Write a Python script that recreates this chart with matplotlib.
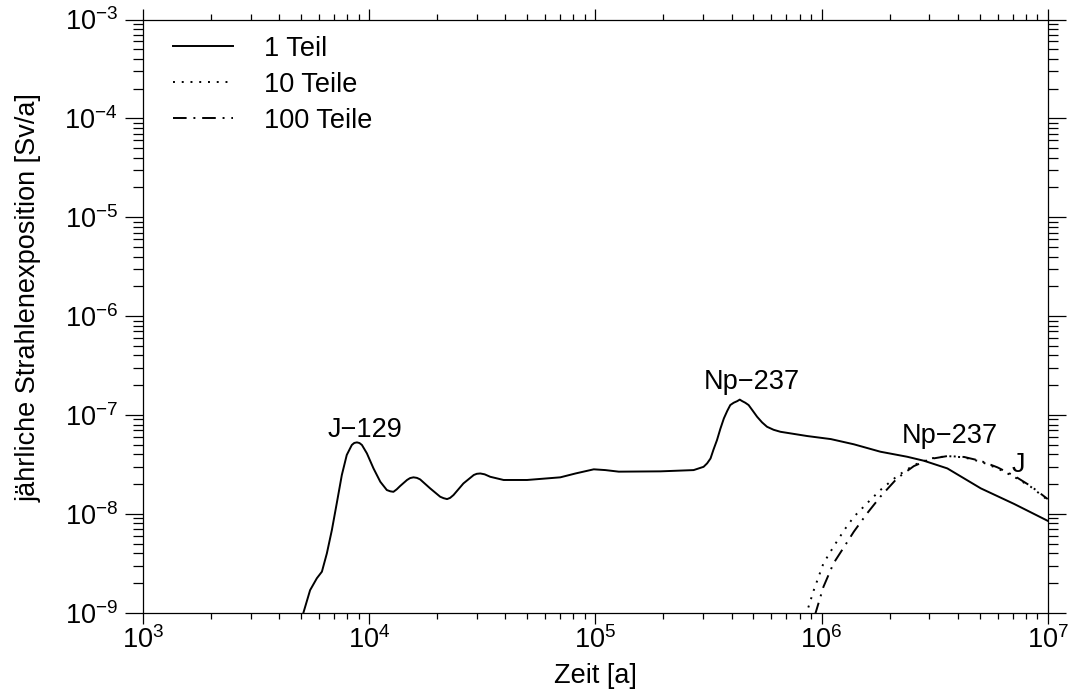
import numpy as np
import matplotlib
matplotlib.use('Agg')
import matplotlib.pyplot as plt
from matplotlib.ticker import LogLocator, LogFormatterMathtext, NullFormatter

plt.rcParams['font.family'] = ['Liberation Sans', 'DejaVu Sans']
plt.rcParams['mathtext.fontset'] = 'custom'
plt.rcParams['mathtext.rm'] = 'Liberation Sans'

# 1 Teil (whole repository)
t_1 = [5.01e3, 5.12e3, 5.48e3, 5.87e3, 6.18e3, 6.50e3, 6.84e3, 7.19e3, 7.57e3, 7.96e3,
       8.38e3, 8.59e3, 8.83e3, 9.06e3, 9.29e3, 9.77e3, 1.045e4, 1.12e4, 1.197e4, 1.24e4,
       1.28e4, 1.324e4, 1.37e4, 1.47e4, 1.517e4, 1.57e4, 1.626e4, 1.68e4, 1.86e4, 2.06e4,
       2.133e4, 2.21e4, 2.28e4, 2.36e4, 2.61e4, 2.90e4, 2.99e4, 3.10e4, 3.24e4, 3.43e4,
       3.93e4, 4.99e4, 7.0e4, 8.17e4, 9.84e4, 1.107e5, 1.27e5, 1.94e5, 2.72e5, 3.01e5,
       3.12e5, 3.23e5, 3.33e5, 3.45e5, 3.57e5, 3.70e5, 3.83e5, 3.95e5, 4.09e5, 4.24e5,
       4.35e5, 4.46e5, 4.60e5, 4.76e5, 4.97e5, 5.19e5, 5.46e5, 5.74e5, 6.14e5, 6.58e5,
       8.65e5, 1.10e6, 1.39e6, 1.82e6, 2.39e6, 2.84e6, 3.60e6, 5.06e6, 7.10e6, 1.0e7]
d_1 = [7.9e-10, 1.0e-9, 1.69e-9, 2.23e-9, 2.60e-9, 3.98e-9, 6.85e-9, 1.28e-8, 2.47e-8, 3.94e-8,
       4.97e-8, 5.21e-8, 5.28e-8, 5.20e-8, 4.97e-8, 4.09e-8, 2.88e-8, 2.11e-8, 1.74e-8, 1.69e-8,
       1.67e-8, 1.77e-8, 1.91e-8, 2.20e-8, 2.30e-8, 2.34e-8, 2.31e-8, 2.23e-8, 1.81e-8, 1.49e-8,
       1.44e-8, 1.41e-8, 1.45e-8, 1.55e-8, 2.03e-8, 2.47e-8, 2.54e-8, 2.56e-8, 2.51e-8, 2.37e-8,
       2.20e-8, 2.20e-8, 2.34e-8, 2.56e-8, 2.82e-8, 2.77e-8, 2.67e-8, 2.69e-8, 2.77e-8, 2.99e-8,
       3.24e-8, 3.63e-8, 4.47e-8, 5.57e-8, 7.24e-8, 9.23e-8, 1.10e-7, 1.26e-7, 1.33e-7, 1.38e-7,
       1.43e-7, 1.38e-7, 1.33e-7, 1.26e-7, 1.10e-7, 9.59e-8, 8.41e-8, 7.60e-8, 7.08e-8, 6.76e-8,
       6.12e-8, 5.70e-8, 5.05e-8, 4.25e-8, 3.78e-8, 3.44e-8, 2.88e-8, 1.81e-8, 1.26e-8, 8.5e-9]

# 10 Teile
t_10 = [8.51e5, 9.25e5, 1.02e6, 1.13e6, 1.26e6, 1.39e6, 1.59e6, 1.82e6, 2.16e6,
        2.56e6, 3.03e6, 3.60e6, 4.27e6, 5.06e6, 6.0e6, 7.10e6, 8.41e6, 1.0e7]
d_10 = [9.3e-10, 1.70e-9, 3.16e-9, 4.65e-9, 6.85e-9, 9.33e-9, 1.28e-8, 1.74e-8, 2.41e-8,
        3.11e-8, 3.63e-8, 3.84e-8, 3.72e-8, 3.37e-8, 2.88e-8, 2.37e-8, 1.88e-8, 1.38e-8]

# 100 Teile
t_100 = [9.33e5, 1.02e6, 1.13e6, 1.26e6, 1.39e6, 1.59e6, 1.82e6, 2.16e6, 2.56e6,
         3.03e6, 3.60e6, 4.27e6, 5.06e6, 6.0e6, 7.10e6, 8.41e6, 1.0e7]
d_100 = [9.3e-10, 1.83e-9, 3.16e-9, 4.65e-9, 6.61e-9, 1.01e-8, 1.49e-8, 2.29e-8, 3.04e-8,
         3.59e-8, 3.84e-8, 3.76e-8, 3.43e-8, 2.95e-8, 2.43e-8, 1.91e-8, 1.41e-8]

# nuclide labels: text, time, dose (baseline)
labels = ['J\u2212129', 'Np\u2212237', 'Np\u2212237', 'J']
label_t = [9.6e3, 4.9e5, 3.68e6, 7.45e6]
label_d = [5.98e-8, 1.83e-7, 5.16e-8, 2.67e-8]

x_ticks = [1e3, 1e4, 1e5, 1e6, 1e7]
y_ticks = [1e-9, 1e-8, 1e-7, 1e-6, 1e-5, 1e-4, 1e-3]

fs = 19.5
lw = 1.4

fig = plt.figure(figsize=(10.75, 6.97), dpi=100)
ax = fig.add_axes([143 / 1075, 1 - 612.7 / 697, 904.7 / 1075, 593.2 / 697])

ax.plot(t_1, d_1, color='black', lw=lw, label='1 Teil')
ax.plot(t_10, d_10, color='black', lw=lw, dashes=(1, 3.5), label='10 Teile')
ax.plot(t_100, d_100, color='black', lw=lw, dashes=(7, 3.5, 1, 3.5), label='100 Teile')

for txt, x, y in zip(labels, label_t, label_d):
    ax.text(x, y, txt, fontsize=fs, ha='center', va='baseline')

ax.set_xscale('log')
ax.set_yscale('log')
ax.set_xticks(x_ticks)
ax.set_yticks(y_ticks)
ax.set_xlim(1e3, 1e7)
ax.set_ylim(1e-9, 1e-3)

for axis in (ax.xaxis, ax.yaxis):
    axis.set_minor_locator(LogLocator(base=10, subs=np.arange(2, 10), numticks=20))
    axis.set_major_formatter(LogFormatterMathtext())
    axis.set_minor_formatter(NullFormatter())

ax.tick_params(which='both', direction='out', top=True, right=True, width=0.9, colors='black')
ax.tick_params(axis='x', which='major', length=8, pad=2, labelsize=fs)
ax.tick_params(axis='x', which='minor', length=4)
ax.tick_params(axis='y', which='major', length=13, pad=5, labelsize=fs)
ax.tick_params(axis='y', which='minor', length=7)
for sp in ax.spines.values():
    sp.set_linewidth(0.9)

ax.set_xlabel('Zeit [a]', fontsize=fs)
ax.set_ylabel('jährliche Strahlenexposition [Sv/a]', fontsize=fs)
ax.xaxis.set_label_coords(0.5, -0.085)
ax.yaxis.set_label_coords(-0.112, 0.5305)

ax.legend(loc='upper left', bbox_to_anchor=(0.0332, 0.9726), frameon=False, fontsize=fs,
          handlelength=2.2, handletextpad=1.15, labelspacing=0.37, borderpad=0, borderaxespad=0)

plt.savefig('out.png', dpi=100)
